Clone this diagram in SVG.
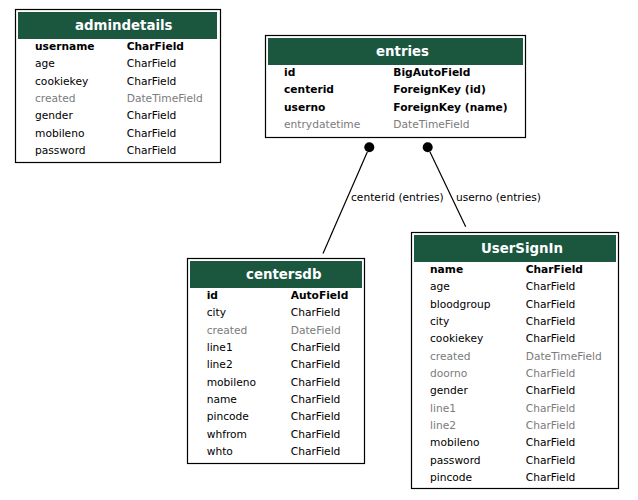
<svg xmlns="http://www.w3.org/2000/svg" width="638" height="500" viewBox="0 0 638 500">
<style>
.box{fill:#fff;stroke:#000;stroke-width:1.2}
.hdr{fill:#1b563f}
.ttl{font-family:"DejaVu Sans",sans-serif;font-size:13.33px;font-weight:bold;fill:#fff}
.f{font-family:"DejaVu Sans",sans-serif;font-size:10.67px;fill:#000}
.b{font-weight:bold}
.g{fill:#7b7b7b}
.edge{stroke:#000;stroke-width:1.2;fill:none}
.lbl{font-family:"DejaVu Sans",sans-serif;font-size:10.67px;fill:#000}
</style>
<rect width="638" height="500" fill="#fff"/>
<g id="connectors">
<circle cx="369.3" cy="147.3" r="5" fill="#000"/>
<line class="edge" x1="367.3" y1="151.9" x2="323" y2="253.5"/>
<text class="lbl" x="351" y="200.7">centerid (entries)</text>
<circle cx="427.7" cy="147.3" r="5" fill="#000"/>
<line class="edge" x1="429.9" y1="151.8" x2="465.7" y2="226.7"/>
<text class="lbl" x="456" y="200.7">userno (entries)</text>
</g>
<g id="admindetails">
<rect class="box" x="15.5" y="9.5" width="205" height="153"/>
<rect class="hdr" x="18" y="12" width="199" height="27"/>
<text class="ttl" x="75" y="29.5">admindetails</text>
<text class="f b" x="35" y="50">username</text><text class="f b" x="126.7" y="50">CharField</text>
<text class="f" x="35" y="67.3">age</text><text class="f" x="126.7" y="67.3">CharField</text>
<text class="f" x="35" y="84.7">cookiekey</text><text class="f" x="126.7" y="84.7">CharField</text>
<text class="f g" x="35" y="102">created</text><text class="f g" x="126.7" y="102">DateTimeField</text>
<text class="f" x="35" y="119.3">gender</text><text class="f" x="126.7" y="119.3">CharField</text>
<text class="f" x="35" y="136.7">mobileno</text><text class="f" x="126.7" y="136.7">CharField</text>
<text class="f" x="35" y="154">password</text><text class="f" x="126.7" y="154">CharField</text>
</g>
<g id="entries">
<rect class="box" x="265.5" y="35.5" width="260" height="102"/>
<rect class="hdr" x="268" y="38" width="255" height="27"/>
<text class="ttl" x="376" y="55.5">entries</text>
<text class="f b" x="284" y="76">id</text><text class="f b" x="393.3" y="76">BigAutoField</text>
<text class="f b" x="284" y="93.3">centerid</text><text class="f b" x="393.3" y="93.3">ForeignKey (id)</text>
<text class="f b" x="284" y="110.7">userno</text><text class="f b" x="393.3" y="110.7">ForeignKey (name)</text>
<text class="f g" x="284" y="128">entrydatetime</text><text class="f g" x="393.3" y="128">DateTimeField</text>
</g>
<g id="centersdb">
<rect class="box" x="187.5" y="258.5" width="177" height="205"/>
<rect class="hdr" x="190" y="261" width="172" height="27"/>
<text class="ttl" x="246" y="279">centersdb</text>
<text class="f b" x="206.7" y="299">id</text><text class="f b" x="290.7" y="299">AutoField</text>
<text class="f" x="206.7" y="316.3">city</text><text class="f" x="290.7" y="316.3">CharField</text>
<text class="f g" x="206.7" y="333.7">created</text><text class="f g" x="290.7" y="333.7">DateField</text>
<text class="f" x="206.7" y="351">line1</text><text class="f" x="290.7" y="351">CharField</text>
<text class="f" x="206.7" y="368.3">line2</text><text class="f" x="290.7" y="368.3">CharField</text>
<text class="f" x="206.7" y="385.7">mobileno</text><text class="f" x="290.7" y="385.7">CharField</text>
<text class="f" x="206.7" y="403">name</text><text class="f" x="290.7" y="403">CharField</text>
<text class="f" x="206.7" y="420.3">pincode</text><text class="f" x="290.7" y="420.3">CharField</text>
<text class="f" x="206.7" y="437.7">whfrom</text><text class="f" x="290.7" y="437.7">CharField</text>
<text class="f" x="206.7" y="455">whto</text><text class="f" x="290.7" y="455">CharField</text>
</g>
<g id="UserSignIn">
<rect class="box" x="411.5" y="232.5" width="207" height="256"/>
<rect class="hdr" x="414" y="235" width="202" height="27"/>
<text class="ttl" x="481" y="253">UserSignIn</text>
<text class="f b" x="430" y="273">name</text><text class="f b" x="525.7" y="273">CharField</text>
<text class="f" x="430" y="290.3">age</text><text class="f" x="525.7" y="290.3">CharField</text>
<text class="f" x="430" y="307.7">bloodgroup</text><text class="f" x="525.7" y="307.7">CharField</text>
<text class="f" x="430" y="325">city</text><text class="f" x="525.7" y="325">CharField</text>
<text class="f" x="430" y="342.3">cookiekey</text><text class="f" x="525.7" y="342.3">CharField</text>
<text class="f g" x="430" y="359.7">created</text><text class="f g" x="525.7" y="359.7">DateTimeField</text>
<text class="f g" x="430" y="377">doorno</text><text class="f g" x="525.7" y="377">CharField</text>
<text class="f" x="430" y="394.3">gender</text><text class="f" x="525.7" y="394.3">CharField</text>
<text class="f g" x="430" y="411.7">line1</text><text class="f g" x="525.7" y="411.7">CharField</text>
<text class="f g" x="430" y="429">line2</text><text class="f g" x="525.7" y="429">CharField</text>
<text class="f" x="430" y="446.3">mobileno</text><text class="f" x="525.7" y="446.3">CharField</text>
<text class="f" x="430" y="463.7">password</text><text class="f" x="525.7" y="463.7">CharField</text>
<text class="f" x="430" y="481">pincode</text><text class="f" x="525.7" y="481">CharField</text>
</g>
</svg>
